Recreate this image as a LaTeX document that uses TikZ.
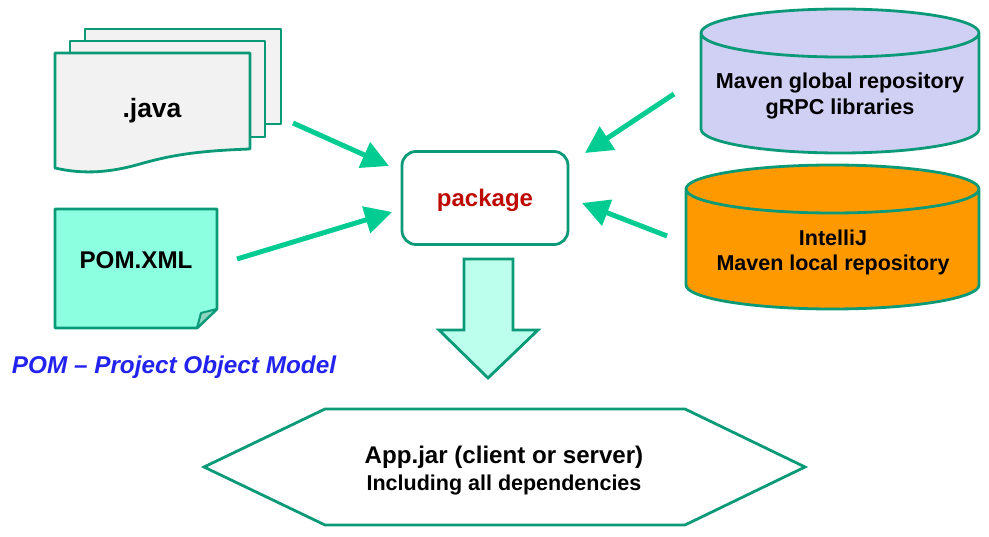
\documentclass[tikz,border=0pt]{standalone}
\usepackage{fontspec}
\setmainfont{Liberation Sans}
\usetikzlibrary{arrows.meta}
\definecolor{edge}{HTML}{0A9A78}
\definecolor{arrowgreen}{HTML}{03CC92}
\definecolor{page}{HTML}{F2F2F2}
\definecolor{pom}{HTML}{8CFFE0}
\definecolor{fold}{HTML}{8FD6C2}
\definecolor{lav}{HTML}{D0D0F4}
\definecolor{orng}{HTML}{FF9900}
\definecolor{bigarrow}{HTML}{BBFFEC}
\definecolor{pkg}{HTML}{BE0A00}
\definecolor{pomblue}{HTML}{2323F0}
\tikzset{
 shapeline/.style={draw=edge,line width=2.8pt,line join=round},
 txt/.style={text=black,align=center,inner sep=0pt},
 conn/.style={draw=arrowgreen,line width=5pt,-{Triangle[length=27pt,width=27pt]}}
}
\newcommand{\cyl}[6]{% left right top-centre bottom-centre ry fill
  \path[shapeline,fill=#6] (#1,#3) -- (#1,#4)
    .. controls (#1,{#4+0.55*#5}) and ({(#1+#2)/2-0.55*(#2-#1)/2},{#4+#5}) .. ({(#1+#2)/2},{#4+#5})
    .. controls ({(#1+#2)/2+0.55*(#2-#1)/2},{#4+#5}) and (#2,{#4+0.55*#5}) .. (#2,#4)
    -- (#2,#3)
    .. controls (#2,{#3-0.55*#5}) and ({(#1+#2)/2+0.55*(#2-#1)/2},{#3-#5}) .. ({(#1+#2)/2},{#3-#5})
    .. controls ({(#1+#2)/2-0.55*(#2-#1)/2},{#3-#5}) and (#1,{#3-0.55*#5}) .. (#1,#3)
    .. controls (#1,{#3+0.55*#5}) and ({(#1+#2)/2-0.55*(#2-#1)/2},{#3+#5}) .. ({(#1+#2)/2},{#3+#5})
    .. controls ({(#1+#2)/2+0.55*(#2-#1)/2},{#3+#5}) and (#2,{#3+0.55*#5}) .. (#2,#3);
}
\begin{document}
\begin{tikzpicture}[x=1pt,y=-1pt]
\useasboundingbox (0,0) rectangle (989,537);
% java pages
\path[shapeline,fill=page] (85,29) -- (281,29) -- (281,124) -- (85,124) -- cycle;
\path[shapeline,fill=page] (70,41) -- (265,41) -- (265,137) -- (70,137) -- cycle;
\path[shapeline,fill=page] (55,53) -- (250,53) -- (250,149)
  .. controls (190,151) and (165,157) .. (140,164)
  .. controls (112,172) and (85,175) .. (55,168) -- cycle;
\node[txt,font=\bfseries\fontsize{26.5pt}{30pt}\selectfont] (java) at (152,111) {.java};
% pom
\path[shapeline,fill=pom] (55,209) -- (217,209) -- (217,309) -- (197,328) -- (55,328) -- cycle;
\path[draw=edge,line width=2pt,fill=fold,line join=round] (217,309) -- (201,313) -- (197,328) -- cycle;
\node[txt,font=\bfseries\fontsize{24.2pt}{28pt}\selectfont] (pomtxt) at (136,260) {POM.XML};
\node[inner sep=0pt,text=pomblue,font=\bfseries\itshape\fontsize{24.3pt}{28pt}\selectfont] (pomnote) at (174,367) {POM – Project Object Model};
% package
\node[draw=edge,line width=2.8pt,rounded corners=14pt,fill=white,minimum width=166pt,minimum height=93pt,inner sep=0pt] (package) at (485,198) {};
\node[inner sep=0pt,text=pkg,font=\bfseries\fontsize{24pt}{28pt}\selectfont] (packagetext) at (485,200.5) {package};
% cylinders
\cyl{701}{979}{33}{129}{24}{lav}
\node[txt,font=\bfseries\fontsize{21.6pt}{26pt}\selectfont] (global) at (840,96) {Maven global repository\\gRPC libraries};
\cyl{686}{979}{189}{285}{24}{orng}
\node[txt,font=\bfseries\fontsize{21.5pt}{25pt}\selectfont] (local) at (833,252) {IntelliJ\\Maven local repository};
% connector ends
\coordinate (javaout) at (293,123);
\coordinate (pomout) at (237,259);
\coordinate (globalout) at (674,94);
\coordinate (localout) at (667,236);
\coordinate (in1) at (389,166);
\coordinate (in2) at (392,212);
\coordinate (in3) at (585,153);
\coordinate (in4) at (582,203);
\draw[conn] (javaout) -- (in1);
\draw[conn] (pomout) -- (in2);
\draw[conn] (globalout) -- (in3);
\draw[conn] (localout) -- (in4);
% big arrow
\path[shapeline,fill=bigarrow,line join=miter] (464,259) -- (513,259) -- (513,330) -- (538,330) -- (488,378) -- (439,330) -- (464,330) -- cycle;
% hexagon
\path[shapeline,fill=white,line join=miter] (204,467) -- (325,409) -- (685,409) -- (805,467) -- (685,525) -- (325,525) -- cycle;
\node[txt,font=\bfseries\fontsize{24.1pt}{28pt}\selectfont] (app) at (504,457) {App.jar (client or server)};
\node[txt,font=\bfseries\fontsize{21.5pt}{24pt}\selectfont] (deps) at (504,485) {Including all dependencies};
\end{tikzpicture}
\end{document}
